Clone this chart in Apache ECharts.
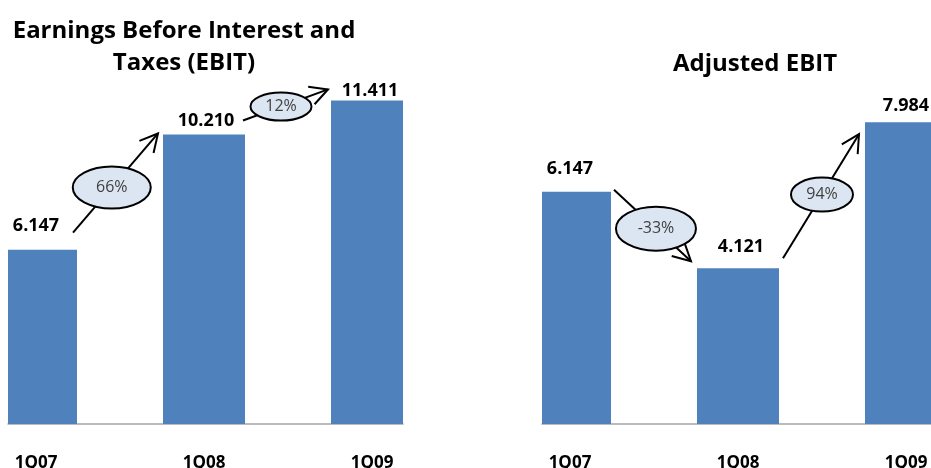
<!DOCTYPE html>
<html>
<head>
<meta charset="utf-8">
<script src="https://cdn.jsdelivr.net/npm/echarts@6/dist/echarts.min.js"></script>
<style>
  html, body { margin: 0; padding: 0; background: #ffffff; }
  #chart { width: 931px; height: 468px; }
</style>
</head>
<body>
<div id="chart"></div>
<script>
// Quarterly EBIT figures
const quarters = ['1Q07', '1Q08', '1Q09'];
const ebit = [6.147, 10.210, 11.411];
const adjustedEbit = [6.147, 4.121, 7.984];
const titleEbit = ['Earnings Before Interest and', 'Taxes (EBIT)'];
const titleAdjusted = 'Adjusted EBIT';

const BLUE = '#4f81bd';
const FONT = '"Open Sans", Lato, sans-serif';
const BAR_WIDTH = 82;

const pct = (a, b) => Math.round((b - a) / a * 100) + '%';

const chart = echarts.init(document.getElementById('chart'));

function makeXAxis(gridIndex, max) {
  return {
    type: 'value', gridIndex, min: -1 / 6, max,
    axisLine: { show: true, onZero: false, lineStyle: { color: '#a6a6a6', width: 1.5 } },
    axisTick: { show: false },
    splitLine: { show: false },
    axisLabel: {
      customValues: [0, 1, 2],
      formatter: v => quarters[Math.round(v)],
      margin: 31, fontFamily: FONT, fontWeight: 'bold', fontSize: 17, color: '#000'
    }
  };
}

// Bars are cut at the plot edges, so draw them as clipped rectangles
function makeSeries(idx, values, distances, shifts) {
  return {
    type: 'custom', xAxisIndex: idx, yAxisIndex: idx,
    itemStyle: { color: BLUE },
    encode: { x: 0, y: 1 },
    data: values.map((v, i) => [i, v]),
    renderItem(params, api) {
      const i = api.value(0), v = api.value(1);
      const base = api.coord([i, 0]);
      const top = api.coord([i, v]);
      const cs = params.coordSys;
      const rect = echarts.graphic.clipRectByRect(
        { x: base[0] - BAR_WIDTH / 2, y: top[1], width: BAR_WIDTH, height: base[1] - top[1] },
        { x: cs.x, y: cs.y, width: cs.width, height: cs.height }
      );
      return {
        type: 'group',
        children: [
          { type: 'rect', shape: rect, style: api.style() },
          {
            type: 'text', x: top[0] + shifts[i], y: top[1] - distances[i],
            style: {
              text: v.toFixed(3), align: 'center', verticalAlign: 'bottom',
              font: 'bold 18px ' + FONT, fill: '#000'
            }
          }
        ]
      };
    }
  };
}

chart.setOption({
  backgroundColor: '#ffffff',
  animation: false,
  grid: [
    { left: 8, right: 528, top: 27, bottom: 44, outerBoundsMode: 'none', containLabel: false },
    { left: 542, right: 0, top: 46, bottom: 44, outerBoundsMode: 'none', containLabel: false }
  ],
  xAxis: [makeXAxis(0, 2.1845), makeXAxis(1, 2.1488)],
  yAxis: [
    { type: 'value', gridIndex: 0, min: 0, max: 14, show: false },
    { type: 'value', gridIndex: 1, min: 0, max: 10, show: false }
  ],
  series: [
    makeSeries(0, ebit, [15, 5, 1], [0, 2, -2]),
    makeSeries(1, adjustedEbit, [14, 12, 7], [0, 3, 0])
  ]
});

// Growth annotations: arrow from one bar towards the next with a callout ellipse
function barTop(gridIndex, i, values) {
  return chart.convertToPixel({ gridIndex }, [i, values[i]]);
}

function arrowGraphics(start, tip, t, rx, ry, text) {
  const els = [];
  const [x1, y1] = start, [x2, y2] = tip;
  els.push({ type: 'line', z: 10, shape: { x1, y1, x2, y2 }, style: { stroke: '#000', lineWidth: 2 } });
  const ang = Math.atan2(y2 - y1, x2 - x1);
  const len = 20, spread = Math.PI / 6.5;
  const b1 = [x2 - len * Math.cos(ang - spread), y2 - len * Math.sin(ang - spread)];
  const b2 = [x2 - len * Math.cos(ang + spread), y2 - len * Math.sin(ang + spread)];
  els.push({ type: 'polyline', z: 10, shape: { points: [b1, [x2, y2], b2] },
    style: { stroke: '#000', lineWidth: 2, fill: null, lineJoin: 'miter' } });
  const cx = x1 + (x2 - x1) * t, cy = y1 + (y2 - y1) * t;
  els.push({ type: 'ellipse', z: 11, shape: { cx, cy, rx, ry },
    style: { fill: '#dce6f2', stroke: '#000', lineWidth: 2 } });
  els.push({ type: 'text', z: 12, x: cx, y: cy,
    style: { text, align: 'center', verticalAlign: 'middle', font: '16px ' + FONT, fill: '#404040' } });
  return els;
}

function offset(p, dx, dy) { return [p[0] + dx, p[1] + dy]; }

const l0 = barTop(0, 0, ebit), l1 = barTop(0, 1, ebit), l2 = barTop(0, 2, ebit);
const r0 = barTop(1, 0, adjustedEbit), r1 = barTop(1, 1, adjustedEbit), r2 = barTop(1, 2, adjustedEbit);

const graphics = [].concat(
  arrowGraphics(offset(l0, 37, -17), offset(l1, -46, -1), 0.456, 39, 21, pct(ebit[0], ebit[1])),
  arrowGraphics(offset(l1, 39, -14), offset(l2, -44, -11), 0.447, 30.5, 14, pct(ebit[1], ebit[2])),
  arrowGraphics(offset(r0, 44, -2), offset(r1, -47, -7), 0.545, 40, 22, pct(adjustedEbit[0], adjustedEbit[1])),
  arrowGraphics(offset(r1, 45, -10), offset(r2, -47, 12), 0.513, 31, 17, pct(adjustedEbit[1], adjustedEbit[2]))
);

const titleStyle = { font: 'bold 24px ' + FONT, fill: '#000', align: 'center', verticalAlign: 'top' };
graphics.push(
  { type: 'text', x: 184, y: 19, style: Object.assign({ text: titleEbit[0] }, titleStyle) },
  { type: 'text', x: 184, y: 51, style: Object.assign({ text: titleEbit[1] }, titleStyle) },
  { type: 'text', x: 755, y: 52, style: Object.assign({ text: titleAdjusted }, titleStyle) }
);

chart.setOption({ graphic: { elements: graphics } });
</script>
</body>
</html>
